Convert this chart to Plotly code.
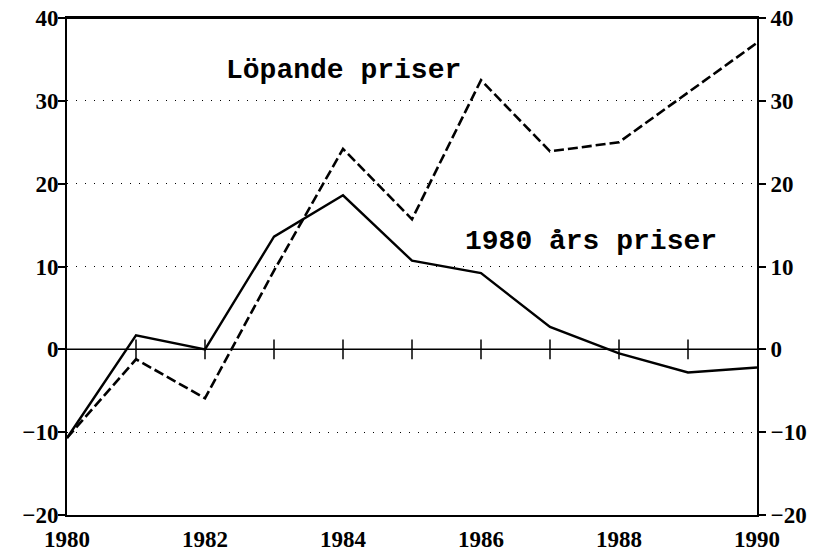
import plotly.graph_objects as go

years = [1980, 1981, 1982, 1983, 1984, 1985, 1986, 1987, 1988, 1989, 1990]
fasta_priser = [-10.7, 1.7, 0.0, 13.6, 18.6, 10.7, 9.2, 2.7, -0.5, -2.8, -2.2]
lopande_priser = [-10.7, -1.2, -5.9, 9.5, 24.2, 15.7, 32.5, 23.9, 25.0, 31.0, 37.0]
y_ticks = [-20, -10, 0, 10, 20, 30, 40]
x_ticks = [1980, 1982, 1984, 1986, 1988, 1990]
label_lopande = "Löpande priser"
label_fasta = "1980 års priser"

TICKFONT = "Liberation Serif"
LABELFONT = "Liberation Mono"

fig = go.Figure()

# zero line
fig.add_trace(go.Scatter(x=[years[0], years[-1]], y=[0, 0], mode="lines",
                         line=dict(color="black", width=1.5), hoverinfo="skip", showlegend=False))
# crossing ticks on zero line
fig.add_trace(go.Scatter(x=years[1:-1], y=[0] * (len(years) - 2), mode="markers",
                         marker=dict(symbol="line-ns-open", size=14, color="black",
                                     line=dict(color="black", width=1.5)),
                         hoverinfo="skip", showlegend=False))

fig.add_trace(go.Scatter(x=years, y=fasta_priser, mode="lines", name=label_fasta,
                         line=dict(color="black", width=2.4)))
fig.add_trace(go.Scatter(x=years, y=lopande_priser, mode="lines", name=label_lopande,
                         line=dict(color="black", width=2.6, dash="10px,4px")))
# invisible trace for right axis
fig.add_trace(go.Scatter(x=years, y=fasta_priser, yaxis="y2", mode="lines",
                         line=dict(width=0), opacity=0, hoverinfo="skip", showlegend=False))

fig.add_annotation(x=1984.0, y=33.7, text=label_lopande, showarrow=False,
                   font=dict(family=LABELFONT, size=28, color="black", weight="bold"))
fig.add_annotation(x=1987.6, y=13.0, text=label_fasta, showarrow=False,
                   font=dict(family=LABELFONT, size=28, color="black", weight="bold"))

# frame (top edge of the plot area)
fig.add_shape(type="line", xref="x domain", yref="y domain", x0=0, x1=1, y0=1, y1=1,
              line=dict(color="black", width=2))

tickfont = dict(family=TICKFONT, size=23, color="black", weight="bold")

# page body has an 8px margin: size the figure so the plot area lands where the reference has it
fig.update_layout(
    width=812, height=547,
    margin=dict(l=59, r=63, t=10, b=40, autoexpand=False),
    plot_bgcolor="white", paper_bgcolor="white",
    showlegend=False,
    xaxis=dict(range=[1980, 1990], tickvals=x_ticks, ticks="", showgrid=False,
               showline=True, linecolor="black", linewidth=2, mirror=True,
               tickfont=tickfont, zeroline=False, ticklen=0, automargin=False,
               ticklabelstandoff=2, ticklabeloverflow="allow"),
    yaxis=dict(range=[-20, 40], tickvals=y_ticks, ticks="outside", ticklen=7, tickwidth=1.5,
               tickcolor="black", showline=True, linecolor="black", linewidth=2,
               showgrid=True, gridcolor="black", gridwidth=1, griddash="1px,8px",
               zeroline=False, tickfont=tickfont, automargin=False,
               ticklabelstandoff=-5, ticklabeloverflow="allow"),
    yaxis2=dict(range=[-20, 40], tickvals=y_ticks, ticks="outside", ticklen=7, tickwidth=1.5,
                tickcolor="black", overlaying="y", side="right", showline=True,
                linecolor="black", linewidth=2, showgrid=False, zeroline=False,
                tickfont=tickfont, automargin=False, ticklabeloverflow="allow"),
)

fig.write_html("out.html")
